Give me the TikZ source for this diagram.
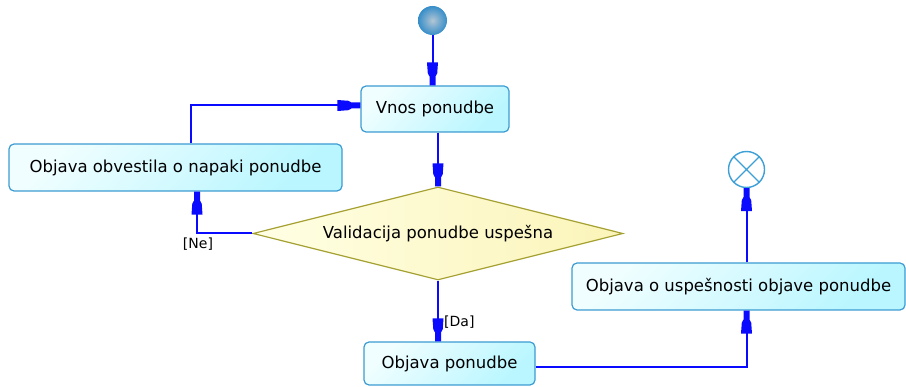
\documentclass[tikz,border=0pt]{standalone}
\usepackage{fontspec}
\setmainfont{DejaVu Sans}
\usetikzlibrary{shapes.geometric,arrows.meta}

\definecolor{boxline}{RGB}{60,155,210}
\definecolor{boxcyan}{RGB}{185,246,255}
\definecolor{boxlight}{RGB}{240,254,255}
\definecolor{decline}{RGB}{165,160,50}
\definecolor{declight}{RGB}{255,255,228}
\definecolor{decdark}{RGB}{251,244,185}
\definecolor{flow}{RGB}{10,10,255}
\definecolor{ballout}{RGB}{25,105,170}
\definecolor{ballmid}{RGB}{50,140,200}
\definecolor{ballin}{RGB}{180,198,212}
\definecolor{endline}{RGB}{60,160,215}

% radial fill of the initial node: pale centre, blue rim
\pgfdeclareradialshading{startball}{\pgfpoint{0bp}{0bp}}{%
  color(0bp)=(ballin); color(10bp)=(ballin!60!ballmid);
  color(26bp)=(ballmid); color(48bp)=(ballout); color(100bp)=(ballout)}

% stepped arrow head: wide tapering body followed by a narrow neck
\pgfdeclarearrow{
  name = FlagTip,
  setup code = {
    \pgfarrowssettipend{0pt}
    \pgfarrowssetlineend{-20pt}
    \pgfarrowssetvisualbackend{-23pt}
    \pgfarrowssetbackend{-23pt}
    \pgfarrowsupperhullpoint{-23pt}{5.5pt}
    \pgfarrowsupperhullpoint{0pt}{3pt}
  },
  drawing code = {
    \pgfpathmoveto{\pgfpoint{0pt}{3pt}}
    \pgfpathlineto{\pgfpoint{-9pt}{3pt}}
    \pgfpathlineto{\pgfpoint{-12pt}{4.7pt}}
    \pgfpathlineto{\pgfpoint{-23pt}{5.5pt}}
    \pgfpathlineto{\pgfpoint{-23pt}{-5.5pt}}
    \pgfpathlineto{\pgfpoint{-12pt}{-4.7pt}}
    \pgfpathlineto{\pgfpoint{-9pt}{-3pt}}
    \pgfpathlineto{\pgfpoint{0pt}{-3pt}}
    \pgfpathclose
    \pgfusepathqfill
  }
}

\begin{document}
\begin{tikzpicture}[x=1pt,y=-1pt,
  act/.style={draw=boxline, line width=1.2pt, rounded corners=5pt,
    top color=boxlight, bottom color=boxcyan, shading angle=45,
    inner sep=0pt, text=black, font=\fontsize{16.5}{19}\selectfont},
  decision/.style={diamond, draw=decline, line width=1.2pt,
    left color=declight, right color=decdark,
    inner sep=0pt, shape aspect=4, text=black,
    font=\fontsize{16.5}{19}\selectfont},
  flowline/.style={draw=flow, line width=2pt, -{FlagTip}},
  guard/.style={inner sep=0pt, text=black, font=\fontsize{14}{16}\selectfont},
  initial/.style={circle, inner sep=0pt, minimum size=29pt, shading=startball},
  final/.style={circle, draw=endline, line width=1.4pt, fill=white,
    inner sep=0pt, minimum size=36pt}
]
\useasboundingbox (0,0) rectangle (906,387);

% activity nodes
\node[initial] (start) at (432.5,20.5) {};
\node[act, minimum width=148pt, minimum height=46pt] (vnos) at (435,109) {Vnos ponudbe};
\node[act, minimum width=333pt, minimum height=47pt] (obv) at (175.5,167.5) {Objava obvestila o napaki ponudbe};
\node[decision, minimum width=370pt, minimum height=93pt] (dia) at (438,233.5) {Validacija ponudbe uspešna};
\node[act, minimum width=171pt, minimum height=43pt] (pon) at (449.5,363.5) {Objava ponudbe};
\node[act, minimum width=333pt, minimum height=47pt] (usp) at (738.5,286.5) {Objava o uspešnosti objave ponudbe};
\node[final] (end) at (746.5,169.5) {};
\draw[endline, line width=1.4pt] (end.north west) -- (end.south east)
  (end.north east) -- (end.south west);

% control flows
\draw[flowline] (start) -- (start |- vnos.north);
\draw[flowline] (dia.north |- vnos.south) -- (dia.north);
\draw[flowline] (dia.west) -| ([xshift=21.5pt]obv.south);
\draw[flowline] ([xshift=15.5pt]obv.north) |- ([yshift=3.5pt]vnos.west);
\draw[flowline] (dia.south) -- (dia.south |- pon.north);
\draw[flowline] ([yshift=-3.5pt]pon.east) -| (end.south |- usp.south);
\draw[flowline] (end.south |- usp.north) -- (end.south);

% guard labels
\node[guard] (ne) at (198,244) {[Ne]};
\node[guard, anchor=west] (da) at (444,322) {[Da]};
\end{tikzpicture}
\end{document}
